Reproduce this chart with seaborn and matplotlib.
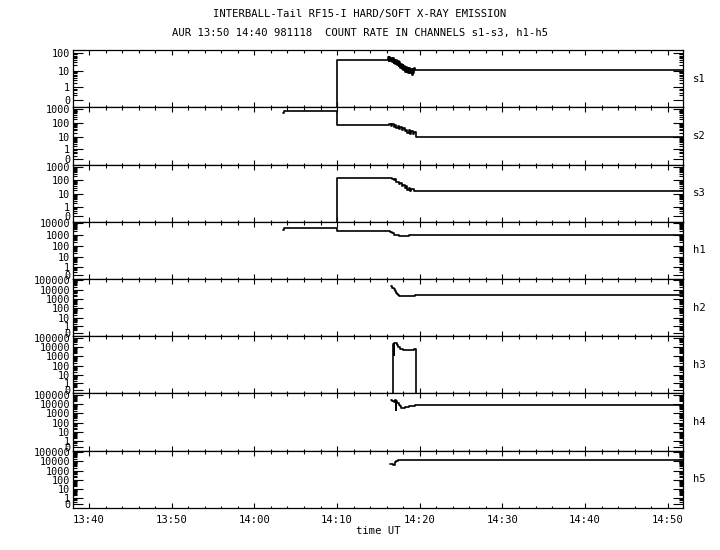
import numpy as np
import pandas as pd
import seaborn as sns
import matplotlib
matplotlib.use('Agg')
import matplotlib.pyplot as plt
import matplotlib.dates as mdates
from matplotlib.ticker import FixedLocator, FuncFormatter

day = '1998-11-18 '

channels = ['s1', 's2', 's3', 'h1', 'h2', 'h3', 'h4', 'h5']
y_top = [100, 1000, 1000, 10000, 100000, 100000, 100000, 100000]

s1_time = ['14:09:58', '14:10:00',
           '14:16:08', '14:16:14', '14:16:20', '14:16:26', '14:16:32', '14:16:38', '14:16:44',
           '14:16:50', '14:16:56', '14:17:02', '14:17:08', '14:17:14', '14:17:20', '14:17:26',
           '14:17:32', '14:17:38', '14:17:44', '14:17:50', '14:17:56', '14:18:02', '14:18:08',
           '14:18:14', '14:18:20', '14:18:26', '14:18:32', '14:18:38', '14:18:44', '14:18:50',
           '14:18:56', '14:19:02', '14:19:08', '14:19:14', '14:19:20', '14:19:26', '14:51:50']
s1_rate = [-0.2, 42,
           55, 34, 58, 36, 50, 30, 48, 28, 42, 24, 38, 21, 33, 18, 29, 15, 25, 13, 22, 11,
           19, 9, 17, 8, 15, 7, 14, 7, 13, 6, 13, 7, 14, 11, 11]

s2_time = ['14:03:28', '14:03:34', '14:10:00', '14:16:20', '14:16:30', '14:16:40', '14:16:50',
           '14:17:00', '14:17:10', '14:17:20', '14:17:30', '14:17:40', '14:17:50', '14:18:00',
           '14:18:10', '14:18:20', '14:18:30', '14:18:40', '14:18:50', '14:19:00', '14:19:10',
           '14:19:20', '14:19:30', '14:51:50']
s2_rate = [530, 800, 69, 82, 58, 80, 52, 70, 44, 60, 36, 50, 30, 42, 25, 34, 20, 29, 17, 25,
           15, 22, 9, 9]

s3_time = ['14:09:58', '14:10:00', '14:16:20', '14:16:35', '14:16:50', '14:17:00', '14:17:10',
           '14:17:20', '14:17:30', '14:17:40', '14:17:50', '14:18:00', '14:18:10', '14:18:20',
           '14:18:30', '14:18:40', '14:18:50', '14:19:00', '14:19:15', '14:19:28', '14:51:50']
s3_rate = [-0.2, 140, 140, 120, 100, 118, 72, 80, 50, 66, 38, 44, 26, 36, 20, 27, 17, 23, 17,
           17, 17]

h1_time = ['14:03:28', '14:03:34', '14:10:00', '14:16:10', '14:16:25', '14:16:40', '14:16:55',
           '14:17:10', '14:17:30', '14:18:40', '14:51:50']
h1_rate = [2700, 3800, 2200, 2000, 1700, 1300, 1000, 850, 780, 900, 900]

h2_time = ['14:16:31', '14:16:40', '14:16:50', '14:17:00', '14:17:06', '14:17:12', '14:17:20',
           '14:17:30', '14:19:25', '14:51:50']
h2_rate = [25000, 17000, 11000, 7300, 4500, 3200, 2500, 2100, 2500, 2500]

h3_time = ['14:16:46', '14:16:48', '14:16:51', '14:16:54', '14:17:00', '14:17:12', '14:17:24',
           '14:17:36', '14:18:00', '14:19:18', '14:19:30']
h3_rate = [-0.2, 20000, 1300, 24000, 27000, 15000, 10000, 6700, 4400, 6000, -0.2]

h4_time = ['14:16:30', '14:16:42', '14:16:54', '14:17:02', '14:17:06', '14:17:08', '14:17:16',
           '14:17:26', '14:17:36', '14:17:44', '14:18:12', '14:18:40', '14:19:25', '14:51:50']
h4_rate = [25000, 20000, 16000, 30000, 2500, 20000, 13000, 8500, 6000, 4200, 4600, 5800,
           7300, 7300]

h5_time = ['14:16:24', '14:16:44', '14:16:58', '14:17:08', '14:17:24', '14:51:50']
h5_rate = [5800, 4500, 8000, 12000, 13000, 13000]

times = [s1_time, s2_time, s3_time, h1_time, h2_time, h3_time, h4_time, h5_time]
rates = [s1_rate, s2_rate, s3_rate, h1_rate, h2_rate, h3_rate, h4_rate, h5_rate]


# log scale that still shows zero
def fwd(v):
    return np.log10(np.maximum(np.asarray(v, dtype=float) + 0.25, 1e-6))


def inv(y):
    return 10 ** np.asarray(y, dtype=float) - 0.25


sns.set_style('ticks')
plt.rcParams['font.family'] = ['DejaVu Sans Mono']
plt.rcParams['font.size'] = 7.6
plt.rcParams['text.color'] = 'black'
plt.rcParams['axes.edgecolor'] = 'black'
plt.rcParams['xtick.color'] = 'black'
plt.rcParams['ytick.color'] = 'black'
plt.rcParams['axes.labelcolor'] = 'black'

fig, axes = plt.subplots(8, 1, sharex=True, figsize=(7.2, 5.5), dpi=100)
fig.subplots_adjust(left=0.1014, right=0.9486, top=0.909, bottom=0.0764, hspace=0)

for ax, name, t, r, top in zip(axes, channels, times, rates, y_top):
    df = pd.DataFrame({'time': pd.to_datetime([day + s for s in t]), 'rate': r})
    sns.lineplot(data=df, x='time', y='rate', ax=ax, color='black', linewidth=1.2,
                 drawstyle='steps-post', estimator=None, sort=False, legend=False)
    ax.set_yscale('function', functions=(fwd, inv))
    ax.set_ylim(-0.15, top * 1.4)
    kmax = int(round(np.log10(top)))
    ax.yaxis.set_major_locator(FixedLocator([0] + [10 ** k for k in range(kmax + 1)]))
    ax.yaxis.set_minor_locator(FixedLocator([0.2, 0.4, 0.6, 0.8] +
                                            [m * 10 ** k for k in range(kmax) for m in range(2, 10)]))
    ax.yaxis.set_major_formatter(FuncFormatter(lambda v, p: '%d' % round(v)))
    ax.set_ylabel('')
    ax.set_xlabel('')
    ax.tick_params(axis='y', which='major', direction='in', left=True, right=True,
                   length=7, width=0.8, pad=2, labelsize=7.3)
    ax.tick_params(axis='y', which='minor', direction='in', left=True, right=True,
                   length=3.2, width=0.8)
    ax.tick_params(axis='x', which='major', direction='in', top=True, bottom=True,
                   length=3.5, width=0.8, pad=5, labelsize=7.6)
    ax.tick_params(axis='x', which='minor', direction='in', top=True, bottom=True,
                   length=1.8, width=0.8)
    for sp in ax.spines.values():
        sp.set_linewidth(0.9)
    ax.text(1.016, 0.5, name, transform=ax.transAxes, ha='left', va='center', fontsize=7.6)

ax = axes[-1]
ax.xaxis.set_major_locator(mdates.MinuteLocator(byminute=range(0, 60, 10)))
ax.xaxis.set_minor_locator(mdates.MinuteLocator(byminute=range(0, 60, 2)))
ax.xaxis.set_major_formatter(mdates.DateFormatter('%H:%M'))
ax.set_xlim(pd.Timestamp(day + '13:38:04'), pd.Timestamp(day + '14:51:50'))
ax.set_xlabel('time UT', fontsize=7.6, labelpad=1)

fig.text(0.5, 0.9745, 'INTERBALL-Tail RF15-I HARD/SOFT X-RAY EMISSION',
         ha='center', va='center', fontsize=7.6)
fig.text(0.5, 0.94, 'AUR 13:50 14:40 981118  COUNT RATE IN CHANNELS s1-s3, h1-h5',
         ha='center', va='center', fontsize=7.6)

fig.savefig('out.png', dpi=100)
